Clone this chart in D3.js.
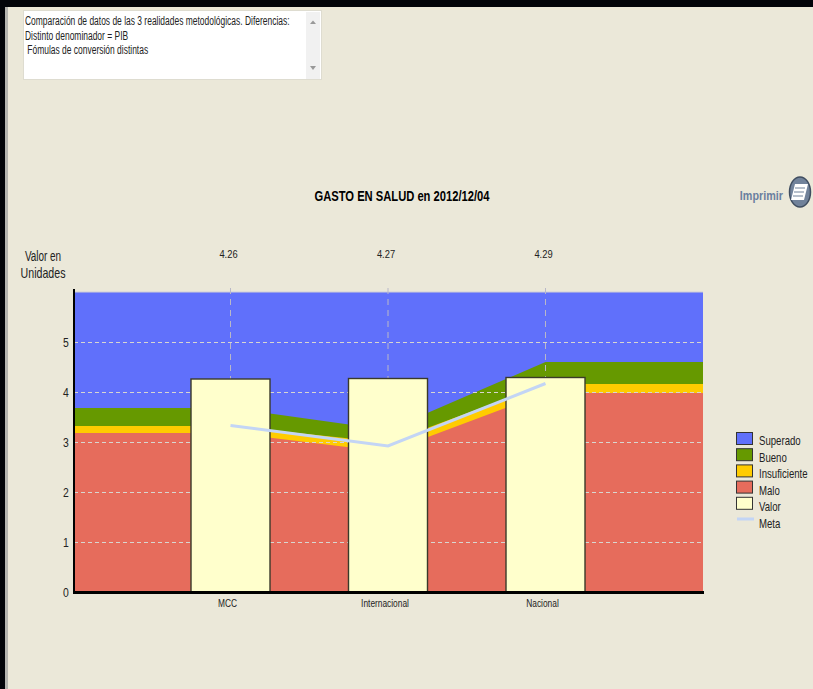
<!DOCTYPE html>
<html>
<head>
<meta charset="utf-8">
<script src="https://d3js.org/d3.v7.min.js"></script>
<style>
html,body{margin:0;padding:0;background:#ebe8d9;overflow:hidden}
text{font-family:"Liberation Sans",Arial,sans-serif;fill:#222}
</style>
</head>
<body>
<div id="chart"></div>
<script>
// values
var categories = ["MCC", "Internacional", "Nacional"];
var valor = [4.26, 4.27, 4.29];
var meta = [3.33, 2.92, 4.17];
var maloTop = [3.18, 2.80, 3.98];
var insuficienteTop = [3.32, 2.99, 4.16];
var buenoTop = [3.68, 3.24, 4.60];
var superadoTop = [6, 6, 6];
var yTicks = [0, 1, 2, 3, 4, 5];
var gridTicks = [1, 2, 3, 4, 5];
var legendNames = ["Superado", "Bueno", "Insuficiente", "Malo", "Valor"];
var legendColors = ["#6070fb", "#669900", "#ffcc00", "#e66c5c", "#ffffcc"];
var noteLines = ["Comparación de datos de las 3 realidades metodológicas. Diferencias:",
                 "Distinto denominador = PIB",
                 " Fómulas de conversión distintas"];

var width = 813, height = 689;
var svg = d3.select("#chart").append("svg").attr("width", width).attr("height", height).style("display", "block");

// the reference text is horizontally squeezed, no narrow font installed so scale it
function squeeze(sel, xFn, yFn, k) {
    return sel.attr("transform", function (d, i) {
        var px = typeof xFn === "function" ? xFn(d, i) : xFn;
        var py = typeof yFn === "function" ? yFn(d, i) : yFn;
        return "translate(" + px + "," + py + ") scale(" + k + ",1)";
    });
}

// window frame
svg.append("rect").attr("width", width).attr("height", 7).attr("fill", "#02040a");
svg.append("rect").attr("width", 5).attr("height", height).attr("fill", "#02040a");
svg.append("rect").attr("x", 5).attr("y", 7).attr("width", 3).attr("height", height).attr("fill", "#b4b4b0");

// comment box
svg.append("rect").attr("x", 23.5).attr("y", 10.5).attr("width", 298).attr("height", 69).attr("fill", "#fff").attr("stroke", "#dedcd0");
svg.append("rect").attr("x", 306).attr("y", 12).attr("width", 14).attr("height", 67).attr("fill", "#f1f1f1");
svg.append("path").attr("d", "M310 24L313 20.5L316 24Z").attr("fill", "#999");
svg.append("path").attr("d", "M310 66L313 70L316 66Z").attr("fill", "#999");
squeeze(svg.selectAll("text.note").data(noteLines).enter().append("text")
    .attr("class", "note")
    .style("white-space", "pre")
    .attr("font-size", 12)
    .text(function (d) { return d; }), 25, function (d, i) { return 25 + i * 14.6; }, 0.705);

// scales: two empty slots pad the ends of the x axis
var x = d3.scalePoint().domain(["start"].concat(categories, ["end"])).range([73, 703]);
var y = d3.scaleLinear().domain([0, 6]).range([592, 292]);

// flat run out to both edges
function bandPoints(values) {
    var pts = [{x: x.range()[0], v: values[0]}];
    categories.forEach(function (c, i) { pts.push({x: x(c), v: values[i]}); });
    pts.push({x: x.range()[1], v: values[values.length - 1]});
    return pts;
}
var area = d3.area().x(function (d) { return d.x; }).y0(y(0)).y1(function (d) { return y(d.v); });

var bands = [superadoTop, buenoTop, insuficienteTop, maloTop];
svg.append("g").selectAll("path").data(bands).enter().append("path")
    .attr("d", function (d) { return area(bandPoints(d)); })
    .attr("fill", function (d, i) { return legendColors[i]; });

svg.append("line").attr("x1", 74).attr("x2", 703).attr("y1", y(6)).attr("y2", y(6)).attr("stroke", "#cfcfd8");

// grid
var grid = svg.append("g").attr("stroke", "#d8d6d0").attr("stroke-width", 1);
grid.selectAll("line.h").data(gridTicks).enter().append("line")
    .attr("class", "h")
    .attr("x1", 74).attr("x2", 703)
    .attr("y1", function (d) { return y(d) + 0.5; })
    .attr("y2", function (d) { return y(d) + 0.5; })
    .attr("stroke-dasharray", "4,3");
grid.selectAll("line.v").data(categories).enter().append("line")
    .attr("class", "v")
    .attr("x1", function (d) { return x(d); }).attr("x2", function (d) { return x(d); })
    .attr("y1", 288).attr("y2", y(0))
    .attr("stroke", "#b9b8c8")
    .attr("stroke-dasharray", "6,5");

// bars
var barWidth = 79;
svg.append("g").selectAll("rect").data(categories).enter().append("rect")
    .attr("x", function (d) { return x(d) - barWidth / 2; })
    .attr("y", function (d, i) { return y(valor[i]); })
    .attr("width", barWidth)
    .attr("height", function (d, i) { return y(0) - y(valor[i]); })
    .attr("fill", legendColors[4])
    .attr("stroke", "#3a3a2a")
    .attr("stroke-width", 1.4);

// meta line
var metaLine = d3.line().x(function (d) { return x(d); }).y(function (d, i) { return y(meta[i]); });
svg.append("path").attr("d", metaLine(categories)).attr("fill", "none")
    .attr("stroke", "#c3d5f5").attr("stroke-width", 3);

// axes
svg.append("line").attr("x1", 74).attr("x2", 74).attr("y1", 289).attr("y2", 593).attr("stroke", "#000").attr("stroke-width", 2);
svg.append("line").attr("x1", 73).attr("x2", 704).attr("y1", 592.5).attr("y2", 592.5).attr("stroke", "#000").attr("stroke-width", 3);

squeeze(svg.selectAll("text.ytick").data(yTicks).enter().append("text")
    .attr("class", "ytick")
    .attr("text-anchor", "middle").attr("font-size", 13)
    .text(function (d) { return d; }), 66, function (d) { return y(d) + 5; }, 0.8);

squeeze(svg.selectAll("text.cat").data(categories).enter().append("text")
    .attr("class", "cat")
    .attr("text-anchor", "middle").attr("font-size", 11)
    .text(function (d) { return d; }), function (d) { return x(d) - 3; }, 607, 0.76);

squeeze(svg.selectAll("text.val").data(valor).enter().append("text")
    .attr("class", "val")
    .attr("text-anchor", "middle").attr("font-size", 11)
    .text(function (d) { return d; }), function (d, i) { return x(categories[i]) - 2; }, 258, 0.85);

// titles
squeeze(svg.append("text").attr("text-anchor", "middle")
    .attr("font-size", 14).attr("font-weight", "bold").style("fill", "#000").text("GASTO EN SALUD en 2012/12/04"), 402, 201, 0.8);
squeeze(svg.append("text").attr("text-anchor", "middle").attr("font-size", 14).text("Valor en"), 43, 261, 0.71);
squeeze(svg.append("text").attr("text-anchor", "middle").attr("font-size", 14).text("Unidades"), 43, 278, 0.76);

// print button
squeeze(svg.append("text").attr("text-anchor", "end")
    .attr("font-size", 13).attr("font-weight", "bold").style("fill", "#6a7f9f").text("Imprimir"), 783, 200, 0.83);
svg.append("ellipse").attr("cx", 800).attr("cy", 192).attr("rx", 10.5).attr("ry", 15)
    .attr("fill", "#71829a").attr("stroke", "#3f4d60").attr("stroke-width", 1.5);
svg.append("path").attr("d", "M795 184H808L804 200H791Z").attr("fill", "#fff");
svg.append("path").attr("d", "M795 188H805M794 192H804M793 196H803").attr("stroke", "#71829a").attr("stroke-width", 1.2);

// legend
var legend = svg.append("g");
legend.selectAll("rect").data(legendNames).enter().append("rect")
    .attr("x", 736.5)
    .attr("y", function (d, i) { return 432.5 + i * 16.2; })
    .attr("width", 16).attr("height", 12)
    .attr("fill", function (d, i) { return legendColors[i]; })
    .attr("stroke", "#333");
squeeze(legend.selectAll("text").data(legendNames.concat(["Meta"])).enter().append("text")
    .attr("font-size", 13)
    .text(function (d) { return d; }), 759, function (d, i) { return 445 + i * 16.6; }, 0.74);
legend.append("line").attr("x1", 737).attr("x2", 754).attr("y1", 519).attr("y2", 519)
    .attr("stroke", "#c3d5f5").attr("stroke-width", 3);
</script>
</body>
</html>
